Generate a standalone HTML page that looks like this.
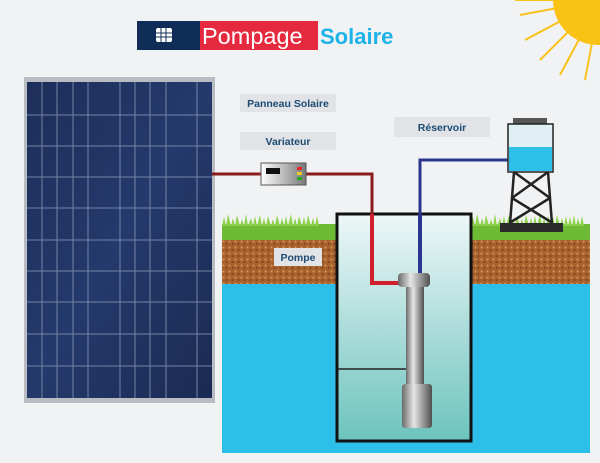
<!DOCTYPE html>
<html><head><meta charset="utf-8"><style>
html,body{margin:0;padding:0;width:600px;height:463px;overflow:hidden;background:#f1f2f4}
svg{display:block}
text{font-family:"Liberation Sans",sans-serif;font-weight:bold}
</style></head><body>
<svg width="600" height="463" viewBox="0 0 600 463" xmlns="http://www.w3.org/2000/svg">
<defs>
<linearGradient id="well" x1="0" y1="0" x2="0" y2="1"><stop offset="0" stop-color="#eef7f8"/><stop offset="1" stop-color="#6cc3bd"/></linearGradient>
<linearGradient id="panel" x1="0" y1="0" x2="1" y2="1"><stop offset="0" stop-color="#1d2e5a"/><stop offset="0.5" stop-color="#243a6c"/><stop offset="1" stop-color="#1a2a52"/></linearGradient>
<linearGradient id="pump" x1="0" y1="0" x2="1" y2="0"><stop offset="0" stop-color="#6a6a6a"/><stop offset="0.4" stop-color="#e6e6e6"/><stop offset="0.7" stop-color="#9a9a9a"/><stop offset="1" stop-color="#505050"/></linearGradient>
<linearGradient id="var" x1="0" y1="0" x2="1" y2="0"><stop offset="0" stop-color="#fff"/><stop offset="1" stop-color="#777"/></linearGradient>
<pattern id="soil" width="6" height="6" patternUnits="userSpaceOnUse"><rect width="6" height="6" fill="#a9622e"/><circle cx="1.5" cy="1.5" r="1" fill="#d89a5c"/><circle cx="4.5" cy="4" r="0.9" fill="#6e3a18"/></pattern>
</defs>
<!-- sun -->
<g stroke="#f7c21a" stroke-width="2">
<line x1="600" y1="0" x2="520" y2="15"/><line x1="600" y1="0" x2="525" y2="40"/><line x1="600" y1="0" x2="540" y2="60"/><line x1="600" y1="0" x2="560" y2="75"/><line x1="600" y1="0" x2="585" y2="80"/><line x1="600" y1="0" x2="515" y2="0"/>
</g>
<circle cx="598" cy="0" r="45" fill="#fbc216"/>
<!-- banner -->
<rect x="137" y="21" width="63" height="29" fill="#0f2d57"/>
<rect x="200" y="21" width="118" height="29" fill="#e52a3f"/>
<rect x="156" y="28" width="16" height="14" rx="2" fill="#fff"/>
<g stroke="#0f2d57" stroke-width="1"><line x1="156" y1="33" x2="172" y2="33"/><line x1="156" y1="37" x2="172" y2="37"/><line x1="161" y1="28" x2="161" y2="42"/><line x1="166" y1="28" x2="166" y2="42"/></g>
<text x="202" y="44" font-size="23.5" fill="#fff" style="font-weight:normal">Pompage</text>
<text x="320" y="44" font-size="22" fill="#1eb3e8">Solaire</text>
<!-- panel -->
<rect x="24" y="77" width="191" height="326" fill="#b9bcc2"/>
<rect x="27" y="82" width="185" height="316" fill="url(#panel)"/>
<g stroke="#8a97b5" stroke-width="1" opacity="0.8">
<line x1="27" y1="115" x2="212" y2="115"/><line x1="27" y1="146" x2="212" y2="146"/><line x1="27" y1="177" x2="212" y2="177"/><line x1="27" y1="208" x2="212" y2="208"/><line x1="27" y1="240" x2="212" y2="240"/><line x1="27" y1="271" x2="212" y2="271"/><line x1="27" y1="302" x2="212" y2="302"/><line x1="27" y1="334" x2="212" y2="334"/><line x1="27" y1="366" x2="212" y2="366"/>
<line x1="42" y1="82" x2="42" y2="398"/><line x1="57" y1="82" x2="57" y2="398"/><line x1="73" y1="82" x2="73" y2="398"/><line x1="88" y1="82" x2="88" y2="398"/><line x1="120" y1="82" x2="120" y2="398"/><line x1="135" y1="82" x2="135" y2="398"/><line x1="150" y1="82" x2="150" y2="398"/><line x1="166" y1="82" x2="166" y2="398"/><line x1="197" y1="82" x2="197" y2="398"/>
</g>
<!-- ground -->
<rect x="222" y="284" width="368" height="169" fill="#2ebfe9"/>
<rect x="222" y="238" width="368" height="46" fill="url(#soil)"/>
<rect x="222" y="224" width="368" height="16" fill="#6dbb35"/>
<path d="M222 226 l2 -9 l2 9 l2 -12 l3 12 l2 -8 l2 8 l2 -11 l3 11 l2 -7 l2 7 l2 -12 l2 12 l3 -8 l2 8 l2 -10 l2 10 l3 -11 l2 11 l2 -8 l2 8 l2 -10 l3 10 l2 -7 l2 7 l2 -11 l3 11 l2 -8 l2 8 l2 -10 l2 10 l3 -12 l2 12 l2 -8 l2 8 l2 -10 l3 10 l2 -9 l2 9 l2 -11 l3 11 l2 -8 l2 8 l2 -10 l2 10 Z" fill="#8dd24a"/>
<path d="M471 226 l2 -9 l2 9 l2 -12 l3 12 l2 -8 l2 8 l2 -11 l3 11 l2 -7 l2 7 l2 -12 l2 12 l3 -8 l2 8 l2 -10 l2 10 l3 -11 l2 11 l2 -8 l2 8 l2 -10 l3 10 l2 -7 l2 7 l2 -11 l3 11 l2 -8 l2 8 l2 -10 l2 10 l3 -12 l2 12 l2 -8 l2 8 l2 -10 l3 10 l2 -9 l2 9 l2 -11 l3 11 l2 -8 l2 8 l2 -10 l2 10 l2 -9 l2 9 l2 -11 l2 11 l2 -8 l2 8 l2 -10 l2 10 Z" fill="#8dd24a"/>
<!-- well -->
<rect x="337" y="214" width="134" height="227" fill="url(#well)" stroke="#111" stroke-width="3"/>
<line x1="338" y1="369" x2="408" y2="369" stroke="#222" stroke-width="1.5"/>
<!-- pipes -->
<polyline points="212,174 372,174 372,214" fill="none" stroke="#8b1c1c" stroke-width="3"/>
<polyline points="372,214 372,283 405,283" fill="none" stroke="#d0202e" stroke-width="4"/>
<polyline points="420,283 420,160 510,160" fill="none" stroke="#2a3590" stroke-width="3"/>
<line x1="420" y1="214" x2="420" y2="283" stroke="#2a3590" stroke-width="4"/>
<!-- variateur -->
<rect x="261" y="163" width="45" height="22" fill="url(#var)" stroke="#555"/>
<rect x="266" y="168" width="14" height="6" fill="#111"/>
<rect x="297" y="167" width="5" height="3" fill="#e22"/><rect x="297" y="172" width="5" height="3" fill="#ec2"/><rect x="297" y="177" width="5" height="3" fill="#2a2"/>
<!-- pump -->
<rect x="398" y="273" width="32" height="14" rx="4" fill="url(#pump)"/>
<rect x="406" y="287" width="18" height="98" fill="url(#pump)"/>
<rect x="402" y="384" width="30" height="44" rx="3" fill="url(#pump)"/>
<!-- tank -->
<rect x="513" y="118" width="34" height="6" fill="#555"/>
<rect x="508" y="124" width="45" height="48" fill="#dfeff4" stroke="#222" stroke-width="1.5"/>
<rect x="509" y="147" width="43" height="24" fill="#2ebfe9"/>
<g stroke="#222" stroke-width="2.5" fill="none">
<line x1="514" y1="172" x2="510" y2="224"/><line x1="548" y1="172" x2="552" y2="224"/>
<line x1="514" y1="172" x2="550" y2="198"/><line x1="548" y1="172" x2="512" y2="198"/>
<line x1="512" y1="198" x2="551" y2="222"/><line x1="550" y1="198" x2="511" y2="222"/>
</g>
<rect x="500" y="223" width="63" height="9" fill="#2a2a2a"/>
<!-- labels -->
<rect x="240" y="94" width="96" height="18" fill="#e1e3e6"/>
<text x="288" y="107" font-size="10.5" fill="#1c4b73" text-anchor="middle">Panneau Solaire</text>
<rect x="240" y="132" width="96" height="18" fill="#e1e3e6"/>
<text x="288" y="145" font-size="10.5" fill="#1c4b73" text-anchor="middle">Variateur</text>
<rect x="394" y="117" width="96" height="20" fill="#e1e3e6"/>
<text x="442" y="131" font-size="10.5" fill="#1c4b73" text-anchor="middle">Réservoir</text>
<rect x="274" y="248" width="48" height="18" fill="#e1e3e6"/>
<text x="298" y="261" font-size="10.5" fill="#1c4b73" text-anchor="middle">Pompe</text>
</svg>
</body></html>
